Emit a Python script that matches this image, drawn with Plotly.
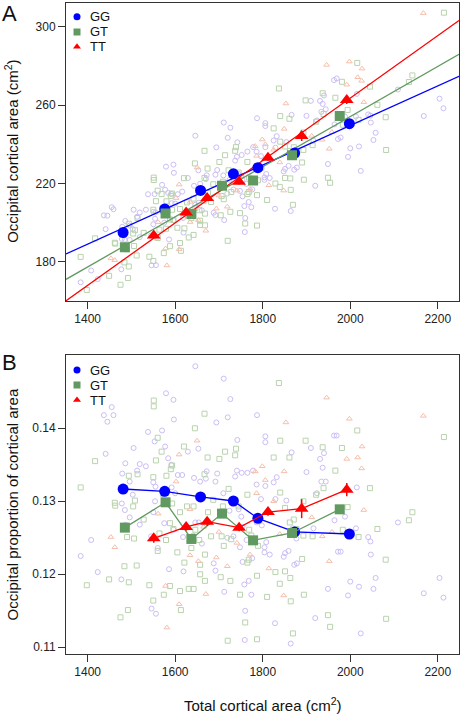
import plotly.graph_objects as go

# ---------------- data ----------------
genotypes = ["GG", "GT", "TT"]

# mean points (binned) - panel A (occipital area, cm2)
gg_mean_x = [1481, 1576, 1658, 1733, 1789, 1873, 1998]
gg_mean_a = [195.0, 207.0, 216.5, 225.0, 228.1, 235.6, 250.6]
gt_mean_x = [1485, 1578, 1637, 1707, 1778, 1867, 1976]
gt_mean_a = [187.5, 204.7, 204.4, 218.9, 221.6, 234.4, 254.5]
tt_mean_x = [1551, 1625, 1673, 1746, 1812, 1889, 1992]
tt_mean_a = [193.5, 205.2, 212.6, 220.9, 233.2, 244.3, 262.7]
tt_err_a = [1.5, 1.4, 1.6, 1.4, 1.5, 2.5, 2.0]

# mean points - panel B (occipital proportion)
gg_mean_p = [0.13168, 0.13137, 0.13059, 0.13004, 0.12767, 0.12580, 0.12552]
gt_mean_p = [0.12639, 0.12986, 0.12484, 0.12831, 0.12465, 0.12566, 0.12890]
tt_mean_p = [0.12493, 0.12648, 0.12721, 0.12639, 0.12853, 0.12899, 0.13159]
tt_err_p = [0.0006, 0.0005, 0.0006, 0.0005, 0.0005, 0.0013, 0.0009]

# regression fits in panel A: area = intercept + slope * total
fit_intercept = [47.5, -1.8, -55.3]
fit_slope = [0.1011, 0.128, 0.1595]

# individual subjects: total area and occipital proportion
gg_x = [1646, 1711, 1579, 1596, 1726, 1455, 1437, 1459, 1445, 1597, 1720, 1694, 1787, 1538, 1570,
        1553, 1577, 1742, 1806, 1806, 1505, 1441, 1653, 1629, 1584, 1591, 1486, 1519, 1533, 1513,
        1606, 1616, 1643, 1672, 1696, 1737, 1752, 1765, 1778, 1832, 1741, 1670, 1657, 1692, 1479,
        1496, 1550, 1555, 1592, 1600, 1710, 1786, 1806, 1825, 1924, 1934, 1944, 1931, 1940, 1937,
        1963, 1969, 1910, 1866, 1900, 2015, 2013, 2041, 2046, 2047, 2058, 2053, 2020, 2000, 1995,
        2024, 1949, 1920, 1978, 1972, 2109, 2168, 2204, 2213, 1872, 1878, 1851, 1859, 1848, 1864,
        1828, 1759, 1760, 1758, 1768, 1774, 1754, 1776, 1804, 1816, 1804, 1808, 1798, 1748, 1712,
        1688, 1692, 1619, 1586, 1560, 1545, 1575, 1596, 1550, 1556, 1546, 1477, 1423, 1408, 1384,
        1486, 1496, 1519, 1485, 1478, 1503, 1554, 1654, 1646, 1618, 1641, 1661, 1733, 1719, 1704,
        1724, 1745, 1751, 1754, 1763, 1786, 1796, 1829, 1854, 1868, 1877, 1916, 1964, 1988]
gg_p = [.1485, .1468, .1448, .1439, .1440, .1429, .1418, .1418, .1409, .1412, .1415, .1408, .1418, .1395, .1397,
        .1382, .1375, .1384, .1389, .1381, .1373, .1365, .1372, .1368, .1359, .1350, .1352, .1351, .1348, .1342,
        .1336, .1336, .1332, .1341, .1338, .1334, .1339, .1339, .1342, .1333, .1342, .1331, .1327, .1327, .1338,
        .1327, .1326, .1320, .1319, .1311, .1311, .1323, .1321, .1326, .1311, .1327, .1327, .1358, .1366, .1346,
        .1390, .1390, .1373, .1367, .1340, .1319, .1263, .1251, .1245, .1227, .1195, .1180, .1183, .1190, .1171,
        .1119, .1180, .1140, .1231, .1231, .1271, .1174, .1195, .1168, .1213, .1215, .1229, .1232, .1224, .1105,
        .1133, .1110, .1150, .1186, .1191, .1172, .1217, .1222, .1230, .1227, .1237, .1244, .1267, .1237, .1176,
        .1215, .1205, .1204, .1207, .1236, .1252, .1270, .1261, .1285, .1146, .1153, .1193, .1203, .1247, .1225,
        .1268, .1278, .1268, .1288, .1297, .1309, .1300, .1271, .1271, .1251, .1253, .1242, .1252, .1250, .1281,
        .1287, .1289, .1279, .1265, .1247, .1271, .1303, .1303, .1301, .1263, .1249, .1263, .1274, .1279]

gt_x = [1837, 1551, 1551, 1667, 1645, 2016, 2214, 1560, 1840, 1898, 1937, 1981, 1620, 1569, 1739,
        1737, 1714, 1825, 1861, 1674, 1701, 1417, 1556, 1593, 1590, 1494, 1514, 1550, 1580, 1667,
        1840, 1939, 1966, 2045, 2062, 2142, 2134, 1384, 1462, 1463, 1508, 1504, 1572, 1593, 1611,
        1627, 1642, 1675, 1687, 1709, 1722, 1745, 1765, 1851, 1893, 1922, 1994, 1983, 2019, 1588,
        1596, 1564, 1506, 1490, 1646, 1655, 1682, 1706, 1711, 1728, 1769, 1774, 1789, 1768, 1765,
        1787, 1862, 1871, 1877, 1893, 1914, 1851, 1829, 1890, 1863, 1839, 1864, 1810, 1894, 1869,
        1949, 1954, 2081, 2082, 1787, 1720, 1760, 1748, 1726, 1704, 1668, 1631, 1642, 1613, 1611,
        1657, 1657, 1668, 1621, 1605, 1637, 1579, 1560, 1541, 1550, 1574, 1588, 1449, 1494, 1492,
        1475, 1398, 1484, 1512, 1528]
gt_p = [.1462, .1438, .1430, .1420, .1400, .1397, .1388, .1387, .1383, .1383, .1374, .1373, .1375, .1368, .1372,
        .1363, .1368, .1360, .1360, .1360, .1358, .1355, .1356, .1349, .1344, .1335, .1337, .1333, .1335, .1337,
        .1312, .1318, .1342, .1318, .1262, .1285, .1274, .1319, .1298, .1294, .1301, .1293, .1310, .1297, .1285,
        .1293, .1293, .1285, .1302, .1293, .1317, .1293, .1309, .1291, .1300, .1309, .1292, .1261, .1251, .1270,
        .1262, .1256, .1249, .1251, .1261, .1247, .1252, .1252, .1239, .1248, .1261, .1253, .1239, .1220, .1216,
        .1198, .1271, .1275, .1262, .1253, .1252, .1204, .1203, .1221, .1195, .1187, .1163, .1169, .1172, .1119,
        .1144, .1128, .1220, .1139, .1111, .1109, .1134, .1172, .1191, .1196, .1191, .1180, .1180, .1151, .1177,
        .1200, .1213, .1227, .1216, .1230, .1236, .1247, .1232, .1185, .1164, .1172, .1184, .1193, .1189, .1151,
        .1141, .1185, .1211, .1212, .1275]

tt_x = [1946, 2167, 1998, 1853, 1650, 2027, 2017, 1992, 1609, 2026, 1849, 1799, 1783, 1602, 1786,
        1825, 1806, 1634, 1561, 2031, 1912, 1665, 1700, 1741, 1453, 1462, 1839, 1936, 1958, 1771,
        1634, 1653, 1694, 1719, 1952, 1814, 1578, 1670, 1848, 1609, 1581]
tt_p = [.1442, .1417, .1413, .1408, .1383, .1375, .1360, .1358, .1364, .1345, .1341, .1348, .1341, .1327, .1311,
        .1300, .1329, .1289, .1283, .1288, .1278, .1265, .1258, .1243, .1251, .1237, .1255, .1252, .1258, .1227,
        .1226, .1218, .1223, .1211, .1218, .1208, .1184, .1173, .1171, .1159, .1127]

x_ticks = [1400, 1600, 1800, 2000, 2200]
a_ticks = [180, 220, 260, 300]
b_ticks = [0.11, 0.12, 0.13, 0.14]

# ---------------- style ----------------
W, H = 461, 716
FONT = "Liberation Sans, Arial, sans-serif"
main_col = ["#0000ff", "#619a61", "#ff0000"]
faint_col = ["#cbbef4", "#b9d3ad", "#f6bfab"]
main_sym = ["circle", "square", "triangle-up"]
main_size = [11, 10, 12]
faint_sym = ["circle-open", "square-open", "triangle-up-open"]

x_range = [1350.5, 2248.5]
a_range = [160.0, 312.4]
b_range = [0.10908, 0.15004]

plot_l, plot_r = 66, 459
a_top, a_bot = 2.7, 301
b_top, b_bot = 355, 654


def fx(px):
    return px / W


def fy(py):
    return 1 - py / H


fig = go.Figure()

raw_x = [gg_x, gt_x, tt_x]
raw_p = [gg_p, gt_p, tt_p]
means_x = [gg_mean_x, gt_mean_x, tt_mean_x]
means_a = [gg_mean_a, gt_mean_a, tt_mean_a]
means_p = [gg_mean_p, gt_mean_p, tt_mean_p]

# faint individual points
for i in range(3):
    xa = raw_x[i]
    pa = raw_p[i]
    area = [p * x for p, x in zip(pa, xa)]
    for yv, xr, yr in [(area, "x", "y"), (pa, "x2", "y2")]:
        fig.add_trace(go.Scatter(x=xa, y=yv, mode="markers", xaxis=xr, yaxis=yr,
                                 marker=dict(symbol=faint_sym[i], size=5, color=faint_col[i],
                                             line=dict(width=1, color=faint_col[i])),
                                 showlegend=False, hoverinfo="skip"))

# regression lines (panel A)
for i in range(3):
    ly = [fit_intercept[i] + fit_slope[i] * xv for xv in x_range]
    fig.add_trace(go.Scatter(x=x_range, y=ly, mode="lines", xaxis="x", yaxis="y",
                             line=dict(color=main_col[i], width=1.3), showlegend=False))

# mean points
for i in range(3):
    ea = dict(type="data", array=tt_err_a, color=main_col[i], thickness=1.5, width=0, visible=True) if i == 2 else None
    eb = dict(type="data", array=tt_err_p, color=main_col[i], thickness=1.5, width=0, visible=True) if i == 2 else None
    fig.add_trace(go.Scatter(x=means_x[i], y=means_a[i], mode="markers", xaxis="x", yaxis="y",
                             marker=dict(symbol=main_sym[i], size=main_size[i], color=main_col[i]),
                             error_y=ea, showlegend=False))
    fig.add_trace(go.Scatter(x=means_x[i], y=means_p[i], mode="lines+markers", xaxis="x2", yaxis="y2",
                             marker=dict(symbol=main_sym[i], size=main_size[i], color=main_col[i]),
                             line=dict(color=main_col[i], width=1.3),
                             error_y=eb, showlegend=False))

# legend markers on an overlay pixel axis
leg_rows_a = [16.7, 32, 46.7]
leg_rows_b = [370, 385, 400]
leg_mx, leg_tx = 77, 88
for rows in (leg_rows_a, leg_rows_b):
    for i in range(3):
        fig.add_trace(go.Scatter(x=[leg_mx], y=[rows[i]], mode="markers", xaxis="x3", yaxis="y3",
                                 marker=dict(symbol=main_sym[i], size=7, color=main_col[i]),
                                 showlegend=False, hoverinfo="skip"))

axis_common = dict(showline=True, mirror=True, linecolor="#333333", linewidth=1,
                   ticks="outside", ticklen=7, tickcolor="#333333", tickwidth=1,
                   showgrid=False, zeroline=False,
                   tickfont=dict(family=FONT, size=12, color="#222222"))

annotations = []
for rows in (leg_rows_a, leg_rows_b):
    for i in range(3):
        annotations.append(dict(x=fx(leg_tx), y=fy(rows[i]), xref="paper", yref="paper",
                                text=genotypes[i], showarrow=False, xanchor="left", yanchor="middle",
                                font=dict(family=FONT, size=13, color="#111111")))

ann_c = dict(xref="paper", yref="paper", showarrow=False, xanchor="center", yanchor="middle")
annotations += [
    dict(x=fx(9), y=fy(13), text="A", font=dict(family=FONT, size=22, color="#111111"), **ann_c),
    dict(x=fx(9), y=fy(363), text="B", font=dict(family=FONT, size=22, color="#111111"), **ann_c),
    dict(x=fx(12), y=fy((a_top + a_bot) / 2), textangle=-90,
         text="Occipital cortical area (cm<sup>2</sup>)",
         font=dict(family=FONT, size=15, color="#111111"), **ann_c),
    dict(x=fx(12), y=fy((b_top + b_bot) / 2), textangle=-90,
         text="Occipital proportion of cortical area",
         font=dict(family=FONT, size=15, color="#111111"), **ann_c),
    dict(x=fx((plot_l + plot_r) / 2), y=fy(704),
         text="Total cortical area (cm<sup>2</sup>)",
         font=dict(family=FONT, size=15, color="#111111"), **ann_c),
]

fig.update_layout(
    width=W, height=H, margin=dict(l=0, r=0, t=0, b=0),
    paper_bgcolor="white", plot_bgcolor="rgba(0,0,0,0)",
    showlegend=False, hovermode=False,
    xaxis=dict(domain=[fx(plot_l), fx(plot_r)], range=x_range, tickvals=x_ticks, anchor="y", **axis_common),
    yaxis=dict(domain=[fy(a_bot), fy(a_top)], range=a_range, tickvals=a_ticks, anchor="x", **axis_common),
    xaxis2=dict(domain=[fx(plot_l), fx(plot_r)], range=x_range, tickvals=x_ticks, anchor="y2", **axis_common),
    yaxis2=dict(domain=[fy(b_bot), fy(b_top)], range=b_range, tickvals=b_ticks, tickformat=".2f",
                anchor="x2", **axis_common),
    xaxis3=dict(domain=[0, 1], range=[0, W], visible=False, anchor="y3"),
    yaxis3=dict(domain=[0, 1], range=[H, 0], visible=False, anchor="x3"),
    annotations=annotations,
)

fig.write_html("out.html", config={"displayModeBar": False, "staticPlot": True},
               post_script="document.body.style.margin='0';document.body.style.overflow='hidden';")
